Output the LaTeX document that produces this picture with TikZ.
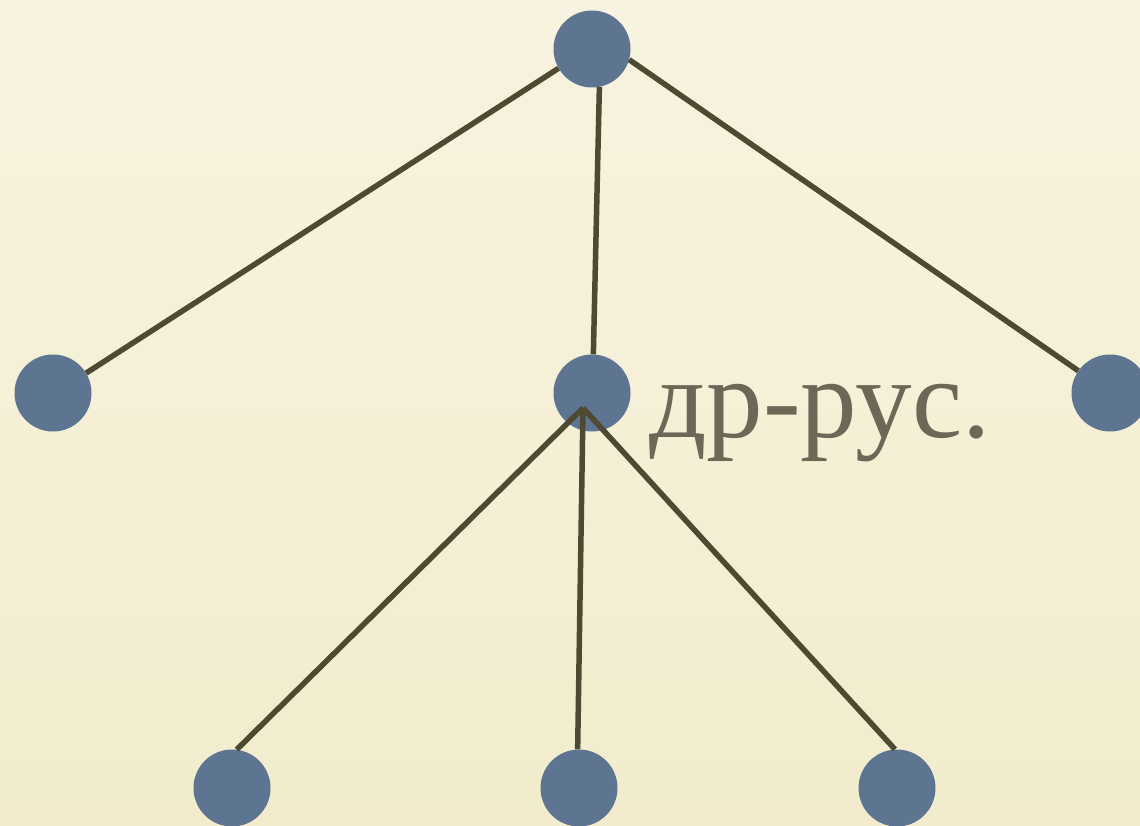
\documentclass[tikz,border=0pt]{standalone}
\usepackage{fontspec}
\setmainfont{Liberation Serif}
\usetikzlibrary{positioning}
\definecolor{bgtop}{HTML}{F8F3E0}
\definecolor{bgbottom}{HTML}{F2ECCD}
\definecolor{dotblue}{HTML}{5E7592}
\definecolor{edgeolive}{HTML}{4E4A32}
\definecolor{labelgray}{HTML}{6E6757}
\begin{document}
\begin{tikzpicture}[
          x=1pt,y=-1pt,
          dot/.style={circle,fill=dotblue,inner sep=0pt,minimum size=77pt},
          branch/.style={draw=edgeolive,line width=5.5pt}
          ]

          \shade[top color=bgtop,bottom color=bgbottom] (0,0) rectangle (1140,826);
          \useasboundingbox (0,0) rectangle (1140,826);

          \node[dot] (root) at (592,49) {};
          \node[dot] (left) at (53,393) {};
          \node[dot] (mid) at (592,393) {};
          \node[dot] (right) at (1110,393) {};
          \node[dot] (leaf1) at (232,788) {};
          \node[dot] (leaf2) at (579,788) {};
          \node[dot] (leaf3) at (897,788) {};
          \coordinate (hub) at (583,408);

          \node[anchor=base west,text=labelgray,inner sep=0pt,
                font=\fontsize{113}{120}\selectfont] (lbl) at (649,437) {др-рус.};

          \path (root.210) edge[branch] (left.31)
          (root.-79) edge[branch] (mid.88)
          (root.-16) edge[branch] (right.145)
          (hub) edge[branch] (leaf1.83)
          (hub) edge[branch] (leaf2.92)
          (hub) edge[branch] (leaf3.93)
          ;
        \end{tikzpicture}
\end{document}
